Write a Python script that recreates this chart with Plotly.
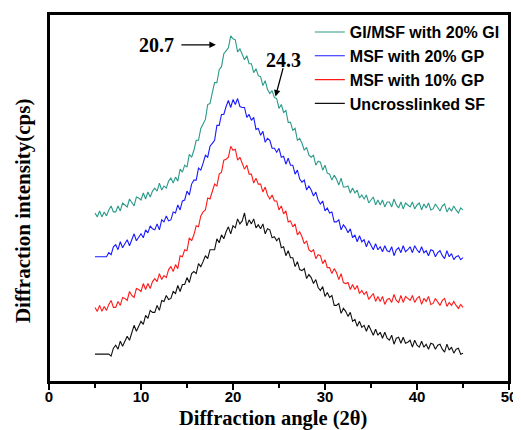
import plotly.graph_objects as go

# Diffraction angle grid (2theta, degrees), 0.25 degree steps from 5 to 45
angle_deg = [
    5.00, 5.25, 5.50, 5.75, 6.00, 6.25, 6.50, 6.75, 7.00, 7.25,
    7.50, 7.75, 8.00, 8.25, 8.50, 8.75, 9.00, 9.25, 9.50, 9.75,
    10.00, 10.25, 10.50, 10.75, 11.00, 11.25, 11.50, 11.75, 12.00, 12.25,
    12.50, 12.75, 13.00, 13.25, 13.50, 13.75, 14.00, 14.25, 14.50, 14.75,
    15.00, 15.25, 15.50, 15.75, 16.00, 16.25, 16.50, 16.75, 17.00, 17.25,
    17.50, 17.75, 18.00, 18.25, 18.50, 18.75, 19.00, 19.25, 19.50, 19.75,
    20.00, 20.25, 20.50, 20.75, 21.00, 21.25, 21.50, 21.75, 22.00, 22.25,
    22.50, 22.75, 23.00, 23.25, 23.50, 23.75, 24.00, 24.25, 24.50, 24.75,
    25.00, 25.25, 25.50, 25.75, 26.00, 26.25, 26.50, 26.75, 27.00, 27.25,
    27.50, 27.75, 28.00, 28.25, 28.50, 28.75, 29.00, 29.25, 29.50, 29.75,
    30.00, 30.25, 30.50, 30.75, 31.00, 31.25, 31.50, 31.75, 32.00, 32.25,
    32.50, 32.75, 33.00, 33.25, 33.50, 33.75, 34.00, 34.25, 34.50, 34.75,
    35.00, 35.25, 35.50, 35.75, 36.00, 36.25, 36.50, 36.75, 37.00, 37.25,
    37.50, 37.75, 38.00, 38.25, 38.50, 38.75, 39.00, 39.25, 39.50, 39.75,
    40.00, 40.25, 40.50, 40.75, 41.00, 41.25, 41.50, 41.75, 42.00, 42.25,
    42.50, 42.75, 43.00, 43.25, 43.50, 43.75, 44.00, 44.25, 44.50, 44.75,
    45.00,
]

# Intensities (arbitrary offset cps units)
gi_msf_20_gi = [
    170, 166, 172, 166, 171, 167, 173, 177, 171, 171, 177, 172, 180, 178, 176, 184, 180, 177, 186, 185,
    183, 190, 184, 191, 186, 192, 195, 192, 200, 193, 197, 195, 202, 205, 200, 206, 202, 214, 211, 218,
    216, 229, 226, 233, 243, 243, 255, 260, 264, 279, 280, 291, 301, 301, 314, 317, 330, 333, 336, 348,
    345, 344, 332, 335, 329, 324, 328, 320, 320, 311, 315, 308, 307, 298, 303, 294, 290, 293, 286, 285,
    275, 279, 271, 273, 261, 261, 253, 255, 243, 245, 240, 233, 236, 228, 226, 228, 218, 222, 221, 213,
    218, 210, 209, 203, 208, 204, 198, 205, 196, 196, 197, 190, 195, 190, 193, 185, 188, 184, 188, 180,
    183, 186, 178, 183, 178, 183, 176, 181, 181, 176, 184, 178, 175, 181, 174, 180, 178, 176, 181, 174,
    178, 180, 173, 179, 175, 180, 173, 174, 179, 175, 172, 177, 179, 171, 175, 172, 177, 173, 170, 175,
    173,
]
msf_20_gp = [
    126, 126, 126, 126, 126, 126, 130, 128, 136, 138, 133, 141, 135, 139, 143, 137, 143, 149, 142, 145,
    149, 145, 153, 150, 157, 154, 153, 159, 153, 163, 161, 167, 162, 163, 171, 170, 178, 173, 182, 183,
    192, 188, 199, 203, 203, 215, 213, 220, 228, 226, 237, 240, 243, 258, 258, 269, 269, 277, 283, 276,
    284, 279, 285, 277, 276, 276, 266, 269, 263, 266, 254, 255, 248, 252, 241, 245, 243, 235, 235, 231,
    235, 226, 227, 219, 225, 218, 218, 209, 213, 204, 201, 203, 193, 197, 193, 187, 191, 183, 179, 182,
    172, 175, 170, 171, 161, 161, 163, 153, 158, 155, 150, 154, 145, 148, 141, 147, 141, 143, 136, 142,
    137, 133, 139, 133, 136, 131, 137, 132, 131, 136, 127, 133, 135, 130, 137, 131, 133, 136, 130, 137,
    133, 130, 136, 130, 132, 127, 133, 132, 126, 130, 132, 127, 124, 132, 126, 129, 123, 126, 127, 123,
    125,
]
msf_10_gp = [
    75, 71, 77, 71, 76, 72, 78, 82, 75, 75, 81, 77, 85, 84, 82, 91, 87, 85, 94, 93,
    91, 99, 93, 99, 94, 101, 104, 101, 109, 103, 107, 105, 113, 116, 111, 118, 114, 127, 126, 133,
    132, 145, 142, 148, 157, 156, 167, 171, 173, 185, 184, 192, 199, 197, 209, 211, 223, 224, 226, 237,
    233, 234, 223, 226, 220, 214, 218, 209, 209, 200, 205, 199, 199, 191, 196, 188, 184, 188, 182, 182,
    173, 177, 169, 172, 161, 162, 156, 159, 148, 151, 146, 139, 142, 133, 131, 133, 124, 128, 127, 119,
    123, 115, 115, 109, 114, 110, 103, 109, 100, 99, 100, 93, 98, 93, 97, 89, 92, 88, 91, 83,
    86, 89, 81, 86, 81, 86, 78, 83, 84, 80, 88, 82, 80, 87, 80, 86, 84, 82, 87, 80,
    84, 86, 78, 84, 81, 86, 78, 79, 84, 80, 77, 82, 84, 76, 80, 77, 81, 77, 74, 78,
    75,
]
uncrosslinked_sf = [
    28, 28, 28, 28, 28, 28, 28, 26, 34, 37, 33, 41, 36, 41, 46, 42, 50, 57, 51, 56,
    61, 58, 67, 64, 72, 70, 70, 77, 72, 82, 81, 87, 83, 84, 91, 89, 97, 91, 98, 98,
    105, 100, 109, 111, 109, 119, 116, 121, 127, 124, 133, 133, 133, 144, 140, 148, 144, 151, 156, 149,
    157, 155, 164, 159, 162, 170, 157, 163, 159, 164, 155, 158, 154, 159, 149, 154, 153, 145, 146, 142,
    145, 135, 136, 127, 132, 125, 125, 116, 121, 113, 112, 114, 104, 108, 105, 99, 103, 95, 92, 96,
    86, 90, 85, 87, 77, 77, 79, 69, 74, 71, 66, 70, 61, 63, 56, 61, 55, 57, 51, 57,
    51, 47, 53, 47, 50, 44, 50, 44, 42, 47, 38, 44, 45, 39, 45, 39, 40, 42, 35, 42,
    37, 35, 41, 35, 38, 33, 39, 38, 33, 37, 38, 33, 30, 38, 32, 35, 29, 33, 34, 28,
    29,
]

series_names = ["GI/MSF with 20% GI", "MSF with 20% GP", "MSF with 10% GP", "Uncrosslinked SF"]
series_values = [gi_msf_20_gi, msf_20_gp, msf_10_gp, uncrosslinked_sf]
series_colors = ["#2a9a8a", "#1a1aff", "#ff1a1a", "#111111"]

x_ticks = [0, 10, 20, 30, 40, 50]

fig = go.Figure()
for name, vals, col in zip(series_names, series_values, series_colors):
    fig.add_trace(go.Scatter(x=angle_deg, y=vals, mode="lines", name=name,
                             line=dict(color=col, width=1.1)))

serif = "Liberation Serif"
sans = "Liberation Sans"

# The page body has an 8px default margin; figure is sized/margined to compensate.
fig.update_layout(
    width=513, height=422,
    margin=dict(l=41, r=9, t=4, b=48),
    plot_bgcolor="white", paper_bgcolor="white",
    showlegend=True,
    legend=dict(x=0.567, y=0.997, xanchor="left", yanchor="top",
                bgcolor="rgba(0,0,0,0)",
                font=dict(family=sans, size=16, color="black", weight="bold")),
    xaxis=dict(range=[0, 50], tickvals=x_ticks, ticks="outside", ticklen=6, tickwidth=1.5,
               tickcolor="black", ticklabelstandoff=-6,
               minor=dict(ticks="outside", ticklen=4, dtick=5, tickwidth=1.5, tickcolor="black"),
               showline=True, linewidth=2, linecolor="black", mirror=True,
               showgrid=False, zeroline=False,
               tickfont=dict(family=sans, size=15, color="black", weight="bold")),
    yaxis=dict(range=[0, 370], showticklabels=False, ticks="",
               showline=True, linewidth=2, linecolor="black", mirror=True,
               showgrid=False, zeroline=False),
    shapes=[dict(type="rect", xref="paper", yref="paper", x0=0, x1=1, y0=0, y1=1,
                 line=dict(color="black", width=2), fillcolor="rgba(0,0,0,0)", layer="above")],
    annotations=[
        dict(text="Diffraction angle (2θ)", xref="paper", yref="paper", x=0.486, y=-0.099,
             xanchor="center", yanchor="middle", showarrow=False,
             font=dict(family=serif, size=20.5, color="black", weight="bold")),
        dict(text="Diffraction intensity(cps)", xref="paper", yref="paper", x=-0.056, y=0.465,
             xanchor="center", yanchor="middle", showarrow=False, textangle=-90,
             font=dict(family=serif, size=21, color="black", weight="bold")),
        dict(text="20.7", xref="x", yref="y", x=11.66, y=339, showarrow=False,
             xanchor="center", yanchor="middle",
             font=dict(family=serif, size=20, color="black", weight="bold")),
        dict(text="", xref="x", yref="y", x=18.14, y=339, ax=-36, ay=0,
             showarrow=True, arrowhead=2, arrowsize=1, arrowwidth=1.3, arrowcolor="black"),
        dict(text="24.3", xref="x", yref="y", x=25.49, y=324, showarrow=False,
             xanchor="center", yanchor="middle",
             font=dict(family=serif, size=20, color="black", weight="bold")),
        dict(text="", xref="x", yref="y", x=24.62, y=287, ax=8, ay=-30,
             showarrow=True, arrowhead=2, arrowsize=1, arrowwidth=1.3, arrowcolor="black"),
    ],
)

fig.write_html("out.html")
